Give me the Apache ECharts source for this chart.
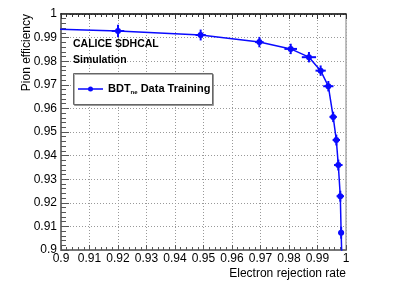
<!DOCTYPE html>
<html><head><meta charset="utf-8">
<script src="https://cdn.jsdelivr.net/npm/echarts@6/dist/echarts.min.js"></script>
<style>html,body{margin:0;padding:0;background:#fff}#c{width:407px;height:292px}</style>
</head><body><div id="c"></div>
<script>
// Data
const rejection = [0.885, 0.920, 0.949, 0.9696, 0.9806, 0.987, 0.9911, 0.9938, 0.9955, 0.9966, 0.9973, 0.9980, 0.9983, 0.9987];
const efficiency = [0.9940, 0.9928, 0.9911, 0.9881, 0.9852, 0.9817, 0.9760, 0.9694, 0.9564, 0.9466, 0.9360, 0.9228, 0.9073, 0.890];
const rejErr = [0.002, 0.0022, 0.0018, 0.0015, 0.0022, 0.0025, 0.0018, 0.0018, 0.0013, 0.0013, 0.0015, 0.0013, 0.0010, 0.0010];
const effErr = [0.0025, 0.0026, 0.0023, 0.0022, 0.0022, 0.0022, 0.0022, 0.0022, 0.0022, 0.0023, 0.0023, 0.0023, 0.0025, 0.0025];
const xTicks = ['0.9','0.91','0.92','0.93','0.94','0.95','0.96','0.97','0.98','0.99','1'];
const yTicks = ['0.9','0.91','0.92','0.93','0.94','0.95','0.96','0.97','0.98','0.99','1'];

const blue = '#0a0aff';
const pts = rejection.map((x, i) => [x, efficiency[i], rejErr[i], effErr[i]]);
const chart = echarts.init(document.getElementById('c'));
const font = 'Liberation Sans, Arial, sans-serif';
const gridCfg = {left: 61, right: 61, top: 14, bottom: 42};
const splitLine = {show: true, lineStyle: {color: '#999', type: [1, 2], width: 1}};
chart.setOption({
  animation: false,
  grid: gridCfg,
  xAxis: [{
    type: 'value', min: 0.9, max: 1.0, interval: 0.01,
    axisLine: {show: true, lineStyle: {color: '#777', width: 2}},
    axisTick: {show: true, inside: true, length: 5, lineStyle: {color: '#555'}},
    minorTick: {show: true, splitNumber: 5, length: 3, lineStyle: {color: '#555'}},
    axisLabel: {color: '#000', fontFamily: font, fontSize: 12, margin: 3,
      formatter: v => xTicks[Math.round((v - 0.9) * 100)]},
    splitLine: splitLine
  }, {
    type: 'value', position: 'top', min: 0.9, max: 1.0, interval: 0.01,
    axisLine: {show: true, lineStyle: {color: '#000', width: 1.5}},
    axisTick: {show: true, inside: true, length: 5, lineStyle: {color: '#333'}},
    minorTick: {show: true, splitNumber: 5, length: 3, lineStyle: {color: '#333'}},
    axisLabel: {show: false}, splitLine: {show: false}
  }],
  yAxis: [{
    type: 'value', min: 0.9, max: 1.0, interval: 0.01,
    axisLine: {show: true, lineStyle: {color: '#777', width: 2}},
    axisTick: {show: true, inside: true, length: 8, lineStyle: {color: '#555'}},
    minorTick: {show: true, splitNumber: 5, length: 5, lineStyle: {color: '#555'}},
    axisLabel: {color: '#000', fontFamily: font, fontSize: 12, margin: 4,
      formatter: v => yTicks[Math.round((v - 0.9) * 100)]},
    splitLine: splitLine
  }, {
    type: 'value', position: 'right', min: 0.9, max: 1.0, interval: 0.01,
    axisLine: {show: true, lineStyle: {color: '#aaa', width: 1.5}},
    axisTick: {show: false}, axisLabel: {show: false}, splitLine: {show: false}
  }],
  series: [{
    type: 'line', data: pts.map(p => [p[0], p[1]]),
    symbol: 'circle', symbolSize: 6, clip: true,
    lineStyle: {color: blue, width: 1.5}, itemStyle: {color: blue}, z: 3
  }, {
    type: 'custom', data: pts, clip: true, z: 4,
    renderItem: (params, api) => {
      const x = api.value(0), y = api.value(1), ex = api.value(2), ey = api.value(3);
      const l = api.coord([x - ex, y]), r = api.coord([x + ex, y]);
      const t = api.coord([x, y + ey]), b = api.coord([x, y - ey]);
      const cs = params.coordSys;
      return {type: 'group', children: [
        {type: 'line', shape: {x1: l[0], y1: l[1], x2: r[0], y2: r[1]}, style: {stroke: blue, lineWidth: 2}},
        {type: 'line', shape: {x1: t[0], y1: t[1], x2: b[0], y2: b[1]}, style: {stroke: blue, lineWidth: 2}}
      ], clipPath: {type: 'rect', shape: {x: cs.x, y: cs.y, width: cs.width, height: cs.height}}};
    }
  }],
  graphic: [
    {type: 'text', x: 346, y: 274, style: {text: 'Electron rejection rate', font: '12px ' + font, fill: '#000', align: 'right', verticalAlign: 'middle'}},
    {type: 'text', x: 27, y: 14, rotation: Math.PI / 2, style: {text: 'Pion efficiency', font: '12px ' + font, fill: '#000', align: 'right', verticalAlign: 'middle'}},
    {type: 'text', x: 73, y: 44, style: {text: 'CALICE SDHCAL', font: 'bold 10.5px ' + font, fill: '#000', verticalAlign: 'middle'}, z: 10},
    {type: 'text', x: 73, y: 60, style: {text: 'Simulation', font: 'bold 10.5px ' + font, fill: '#000', verticalAlign: 'middle'}, z: 10},
    {type: 'rect', shape: {x: 73.5, y: 73.5, width: 139, height: 31}, style: {fill: '#fff', stroke: '#666', lineWidth: 1, shadowColor: 'rgba(0,0,0,0.3)', shadowOffsetX: 1, shadowOffsetY: 1, shadowBlur: 0}, z: 10},
    {type: 'line', shape: {x1: 78, y1: 89, x2: 103, y2: 89}, style: {stroke: '#4444ff', lineWidth: 2}, z: 11},
    {type: 'circle', shape: {cx: 90.5, cy: 89, r: 2.5}, style: {fill: blue}, z: 11},
    {type: 'text', x: 108, y: 89, z: 11, style: {
      text: '{m|BDT}{s|ne}{m| Data Training}', verticalAlign: 'middle',
      rich: {m: {font: 'bold 11px ' + font, fill: '#000'}, s: {font: 'bold 6px ' + font, fill: '#000', verticalAlign: 'bottom', padding: [6, 0, 0, 0]}}}}
  ]
});
</script></body></html>
